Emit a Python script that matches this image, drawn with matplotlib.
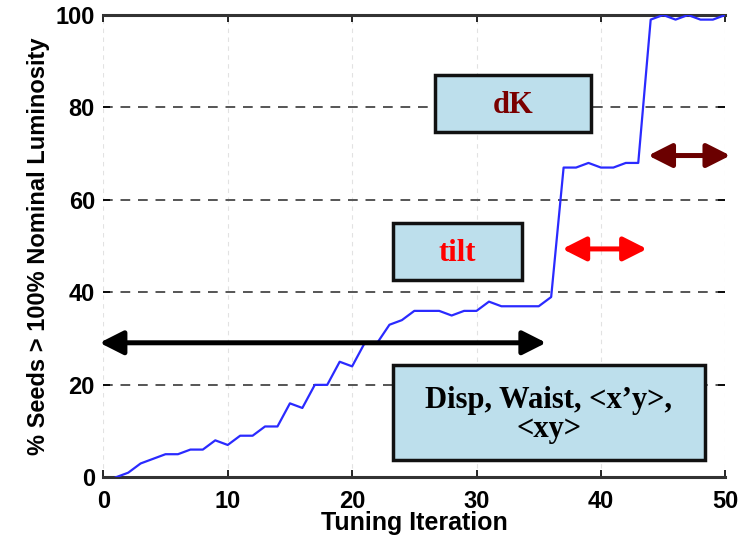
import numpy as np
import matplotlib
matplotlib.use("Agg")
import matplotlib.pyplot as plt
from matplotlib.patches import Rectangle

# tuning iteration vs. % seeds above nominal luminosity
iteration = list(range(1, 51))
seeds_pct = [0, 1, 3, 4, 5, 5, 6, 6, 8, 7,
             9, 9, 11, 11, 16, 15, 20, 20, 25, 24,
             29, 29, 33, 34, 36, 36, 36, 35, 36, 36,
             38, 37, 37, 37, 37, 39, 67, 67, 68, 67,
             67, 68, 68, 99, 100, 99, 100, 99, 99, 100]

# annotation boxes: (label, x0, x1, y0, y1, text colour)
boxes = [
    ("dK", 26.66, 39.2, 74.7, 87.0, "#7a0000"),
    ("tilt", 23.26, 33.63, 42.68, 55.07, "#ff0000"),
    ("Disp, Waist, <x\u2019y>,\n<xy>", 23.26, 48.37, 3.74, 24.3, "black"),
]
# double arrows: (x start, x end, y, colour)
arrows = [
    (-0.3, 35.6, 29.1, "black"),
    (36.9, 43.7, 49.4, "#ff0000"),
    (43.8, 50.4, 69.6, "#6b0000"),
]

fig = plt.figure(figsize=(7.39, 5.41), dpi=100)
ax = fig.add_axes([0.1398, 0.1177, 0.8417, 0.8546])

# grid
for xv in range(0, 51, 10):
    ax.axvline(xv, color="#e2e2e2", lw=0.8, ls=(0, (4, 4)), zorder=0)
for yv in range(20, 100, 20):
    ax.axhline(yv, color="#555555", lw=1.4, ls=(0, (5, 4)), zorder=0)

ax.plot(iteration, seeds_pct, color="#2a2aff", lw=1.6, zorder=3)

for label, x0, x1, y0, y1, col in boxes:
    ax.add_patch(Rectangle((x0, y0), x1 - x0, y1 - y0, facecolor="#bddfec",
                           edgecolor="#111111", lw=2.5, zorder=4))
    ax.text((x0 + x1) / 2, (y0 + y1) / 2 - 0.5, label, ha="center", va="center",
            color=col, fontsize=22, fontweight="bold",
            family="Liberation Serif", linespacing=1.0, zorder=5)

for xa, xb, ya, col in arrows:
    ax.annotate("", xy=(xb, ya), xytext=(xa, ya), annotation_clip=False,
                arrowprops=dict(arrowstyle="<|-|>,head_length=0.95,head_width=0.48",
                                mutation_scale=15, color=col, lw=3.6,
                                shrinkA=0, shrinkB=0), zorder=6)

ax.set_xlim(0, 50)
ax.set_ylim(0, 100)
ax.set_xticks(range(0, 51, 10))
ax.set_yticks(range(0, 101, 20))
ax.spines["left"].set_visible(False)
ax.spines["right"].set_visible(False)
ax.spines["top"].set_linewidth(2.2)
ax.spines["bottom"].set_linewidth(2.2)
ax.spines["top"].set_color("#333333")
ax.spines["bottom"].set_color("#333333")
ax.tick_params(direction="in", length=5, width=1.2, top=True, right=True,
               labelsize=17)
ax.tick_params(axis="x", pad=9)
ax.tick_params(axis="y", pad=6)
for lab in ax.get_xticklabels() + ax.get_yticklabels():
    lab.set_fontweight("bold")
    lab.set_family("Liberation Sans")

ax.set_xlabel("Tuning Iteration", fontsize=18, fontweight="bold",
              family="Liberation Sans", labelpad=-1)
ax.set_ylabel("% Seeds > 100% Nominal Luminosity", fontsize=17,
              fontweight="bold", family="Liberation Sans", labelpad=4)

fig.savefig("out.png", dpi=100)
